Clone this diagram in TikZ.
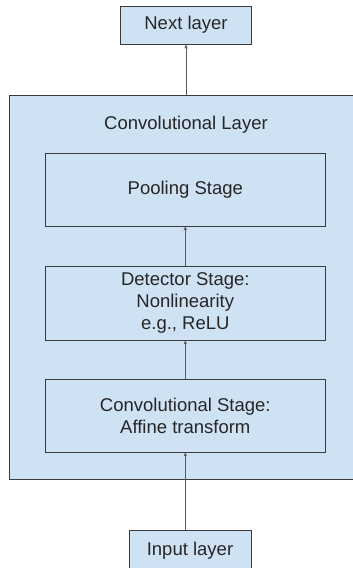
\documentclass[tikz,border=0pt]{standalone}
\usepackage{fontspec}
\setmainfont{Liberation Sans}
\usetikzlibrary{arrows.meta}
\definecolor{boxfill}{HTML}{CFE2F3}
\definecolor{boxline}{HTML}{3A3A3A}
\definecolor{arrowline}{HTML}{5A5A5A}
\begin{document}
\begin{tikzpicture}[x=1pt,y=-1pt,
  box/.style={draw=boxline, line width=0.9pt, fill=boxfill, rectangle, inner sep=0pt,
    align=center, font=\fontsize{18.5}{22}\selectfont, text=black!85},
  flow/.style={draw=arrowline, line width=1pt, -{Stealth[length=4pt,width=3.5pt]}}]
\useasboundingbox (0,0) rectangle (353,568);
\clip (0,0) rectangle (353,568);
% outer layer container
\node[box, minimum width=352pt, minimum height=384pt] (layer) at (185,287) {};
\node[font=\fontsize{18.5}{22}\selectfont, text=black!85] (title) at (186,125) {Convolutional Layer};
% stages
\node[box, minimum width=280pt, minimum height=73pt] (pool) at (185.3,189.5) {Pooling Stage};
\node[box, minimum width=280pt, minimum height=74pt] (det) at (185.3,303) {Detector Stage:\\Nonlinearity\\e.g., ReLU};
\node[box, minimum width=280pt, minimum height=73pt] (conv) at (185.3,415.5) {Convolutional Stage:\\Affine transform};
% input and output layers
\node[box, minimum width=131pt, minimum height=38pt] (next) at (186,25) {Next layer};
\node[box, minimum width=122pt, minimum height=42pt] (input) at (190,551) {Input layer};
% connectors
\draw[flow] (input.north -| conv.south) -- (conv.south);
\draw[flow] (conv.north) -- (det.south);
\draw[flow] (det.north) -- (pool.south);
\draw[flow] (layer.north -| next.south) -- (next.south);
\end{tikzpicture}
\end{document}
